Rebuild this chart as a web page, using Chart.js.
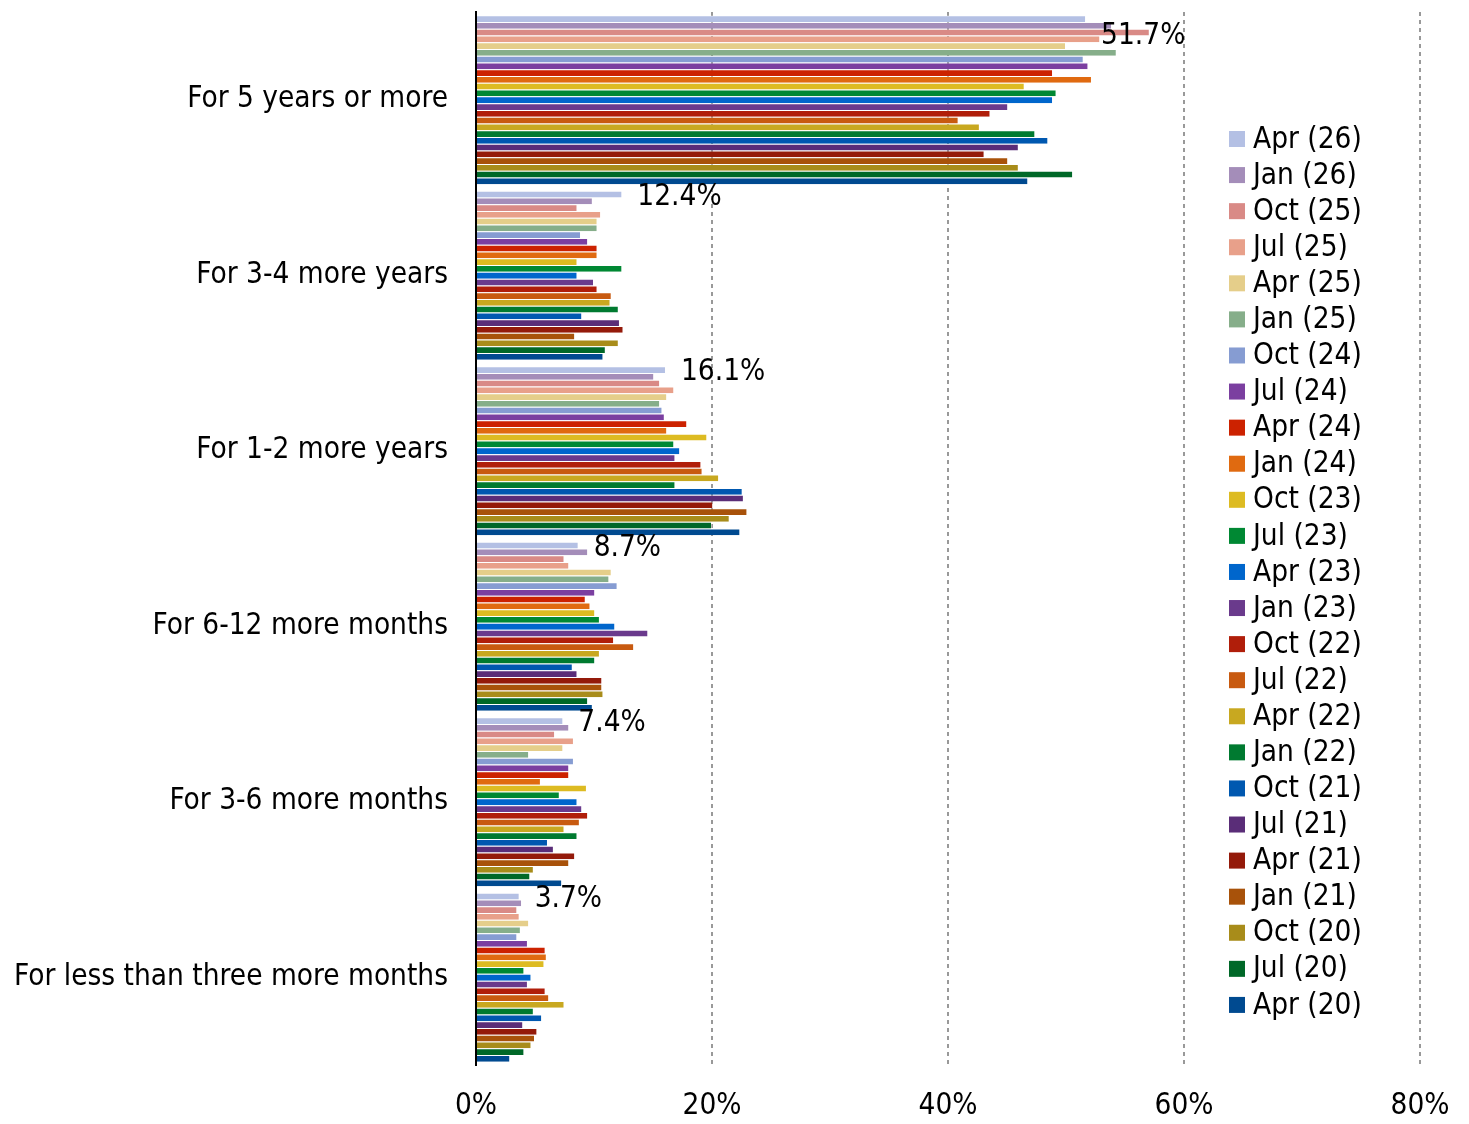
<!DOCTYPE html>
<html>
<head>
<meta charset="utf-8">
<script src="https://cdn.jsdelivr.net/npm/chart.js@4.4.1/dist/chart.umd.min.js"></script>
<style>
	html, body { margin: 0; padding: 0; background: #fff; }
	#wrap { width: 1469px; height: 1124px; position: relative; }
</style>
</head>
<body>
<div id="wrap"><canvas id="duration"></canvas></div>
<script>
var categories = ['For 5 years or more', 'For 3-4 more years', 'For 1-2 more years', 'For 6-12 more months', 'For 3-6 more months', 'For less than three more months'];

// survey waves, newest first
var waves = ['Apr (26)', 'Jan (26)', 'Oct (25)', 'Jul (25)', 'Apr (25)', 'Jan (25)', 'Oct (24)', 'Jul (24)', 'Apr (24)', 'Jan (24)', 'Oct (23)', 'Jul (23)', 'Apr (23)', 'Jan (23)', 'Oct (22)', 'Jul (22)', 'Apr (22)', 'Jan (22)', 'Oct (21)', 'Jul (21)', 'Apr (21)', 'Jan (21)', 'Oct (20)', 'Jul (20)', 'Apr (20)'];

var waveColors = ['#B4C0E4', '#A48DB9', '#D98A86', '#E8A08A', '#E5CE8A', '#86AE8A', '#869CD2', '#7B3FA0', '#CC2200', '#E06A10', '#DDBB22', '#008833', '#0066CC', '#6A3A8C', '#B01E0A', '#C85A10', '#C8A820', '#007A30', '#0058B0', '#5A2D78', '#941A0A', '#A8520A', '#A88C1A', '#006828', '#004A90'];

// % of respondents per answer, one value per wave (same order as waves)
var fiveYears = [51.7, 53.9, 57.1, 52.9, 50.0, 54.3, 51.5, 51.9, 48.9, 52.2, 46.5, 49.2, 48.9, 45.1, 43.6, 40.9, 42.7, 47.4, 48.5, 46.0, 43.1, 45.1, 46.0, 50.6, 46.8];
var threeFourYears = [12.4, 9.9, 8.6, 10.6, 10.3, 10.3, 8.9, 9.5, 10.3, 10.3, 8.6, 12.4, 8.6, 10.0, 10.3, 11.5, 11.4, 12.1, 9.0, 12.2, 12.5, 8.4, 12.1, 11.0, 10.8];
var oneTwoYears = [16.1, 15.1, 15.6, 16.8, 16.2, 15.6, 15.8, 16.0, 17.9, 16.2, 19.6, 16.8, 17.3, 16.9, 19.1, 19.2, 20.6, 16.9, 22.6, 22.7, 20.1, 23.0, 21.5, 20.0, 22.4];
var sixTwelveMonths = [8.7, 9.5, 7.5, 7.9, 11.5, 11.3, 12.0, 10.1, 9.3, 9.7, 10.1, 10.5, 11.8, 14.6, 11.7, 13.4, 10.5, 10.1, 8.2, 8.6, 10.7, 10.7, 10.8, 9.5, 9.9];
var threeSixMonths = [7.4, 7.9, 6.7, 8.3, 7.4, 4.5, 8.3, 7.9, 7.9, 5.5, 9.4, 7.1, 8.6, 9.0, 9.5, 8.8, 7.5, 8.6, 6.1, 6.6, 8.4, 7.9, 4.9, 4.6, 7.3];
var underThreeMonths = [3.7, 3.9, 3.5, 3.7, 4.5, 3.8, 3.5, 4.4, 5.9, 6.0, 5.8, 4.1, 4.7, 4.4, 5.9, 6.2, 7.5, 4.9, 5.6, 4.0, 5.2, 5.0, 4.7, 4.1, 2.9];

var xTicks = [0, 20, 40, 60, 80];

var FONT = "'DejaVu Sans Condensed', 'DejaVu Sans', sans-serif";
var FONT_SIZE = 29.5;

var rows = [fiveYears, threeFourYears, oneTwoYears, sixTwelveMonths, threeSixMonths, underThreeMonths];
var datasets = [];
for (var i = 0; i < waves.length; i++) {
	var dados = [];
	for (var j = 0; j < rows.length; j++) {
		dados.push(rows[j][i]);
	}
	datasets.push({
		label: waves[i],
		data: dados,
		backgroundColor: waveColors[i],
		borderColor: 'rgba(255,255,255,0.35)',
		borderWidth: { top: 1, right: 1, bottom: 0, left: 0 },
		borderSkipped: false,
		barPercentage: 1,
		categoryPercentage: 0.963
	});
}

// value label on the latest wave only
var latestLabels = {
	id: 'latestLabels',
	afterDatasetsDraw: function(chart) {
		var ctx = chart.ctx;
		var meta = chart.getDatasetMeta(0);
		var top = chart.chartArea.top;
		ctx.save();
		ctx.font = FONT_SIZE + 'px ' + FONT;
		ctx.fillStyle = '#000';
		ctx.textAlign = 'left';
		ctx.textBaseline = 'middle';
		meta.data.forEach(function(bar, k) {
			var y = Math.max(bar.y + 3, top + 24);
			ctx.fillText(chart.data.datasets[0].data[k].toFixed(1) + '%', bar.x + 15, y);
		});
		ctx.restore();
	}
};

// legend sits inside the plot, over the empty space on the right
var sideLegend = {
	id: 'sideLegend',
	afterDraw: function(chart) {
		var ctx = chart.ctx;
		var x = chart.chartArea.right - 191;
		var y = 139;
		ctx.save();
		ctx.font = FONT_SIZE + 'px ' + FONT;
		ctx.textAlign = 'left';
		ctx.textBaseline = 'middle';
		chart.data.datasets.forEach(function(ds) {
			ctx.fillStyle = ds.backgroundColor;
			ctx.fillRect(x, y - 8, 16, 16);
			ctx.fillStyle = '#000';
			ctx.fillText(ds.label, x + 24, y + 1);
			y += 36.08;
		});
		ctx.restore();
	}
};

var ctx = document.getElementById('duration').getContext('2d');
var chart = new Chart(ctx, {
	type: 'bar',
	data: {
		labels: categories,
		datasets: datasets
	},
	options: {
		indexAxis: 'y',
		responsive: true,
		maintainAspectRatio: false,
		animation: false,
		layout: {
			padding: { left: 0, right: 49, top: 12, bottom: 2 }
		},
		plugins: {
			legend: { display: false },
			tooltip: { enabled: false }
		},
		scales: {
			x: {
				min: 0,
				max: 80,
				afterBuildTicks: function(scale) {
					scale.ticks = xTicks.map(function(v) { return { value: v }; });
				},
				afterFit: function(scale) {
					scale.height = 57;
					scale.paddingLeft = 0;
					scale.paddingRight = 0;
				},
				border: { display: false, dash: [4, 4] },
				grid: {
					drawTicks: false,
					color: function(c) { return c.tick && c.tick.value === 0 ? 'rgba(0,0,0,0)' : '#999'; },
					lineWidth: 2
				},
				ticks: {
					padding: 24,
					color: '#000',
					font: { family: FONT, size: FONT_SIZE },
					maxRotation: 0,
					callback: function(v) { return v + '%'; }
				}
			},
			y: {
				afterFit: function(scale) {
					scale.width = 476;
					scale.paddingTop = 0;
					scale.paddingBottom = 0;
				},
				border: { display: true, color: '#000', width: 2 },
				// invisible tick marks keep the labels clear of the axis
				grid: {
					drawOnChartArea: false,
					drawTicks: true,
					tickLength: 26,
					color: 'rgba(0,0,0,0)'
				},
				ticks: {
					padding: 2,
					color: '#000',
					font: { family: FONT, size: FONT_SIZE }
				}
			}
		}
	},
	plugins: [latestLabels, sideLegend]
});
</script>
</body>
</html>
